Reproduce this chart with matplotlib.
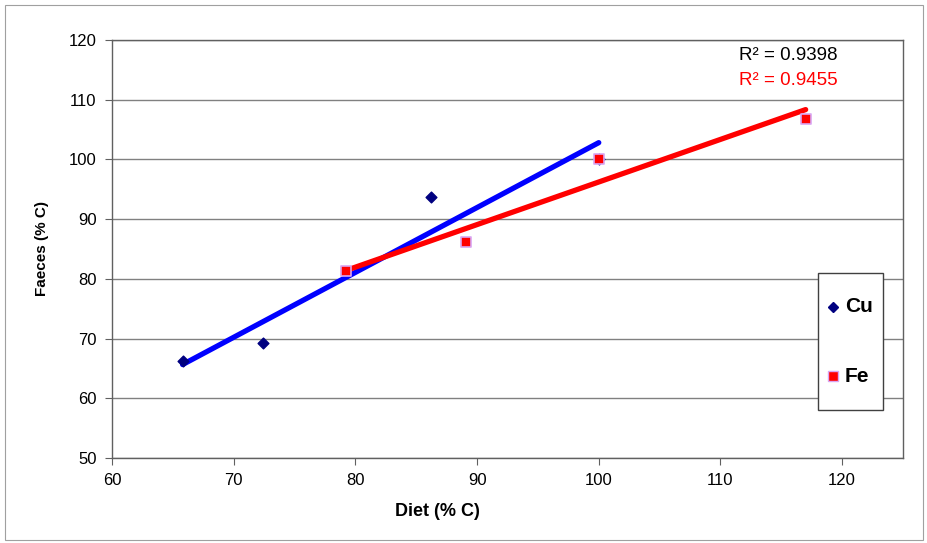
import numpy as np
import matplotlib
matplotlib.use("Agg")
import matplotlib.pyplot as plt
from matplotlib.patches import Rectangle
from matplotlib.lines import Line2D

cu_x = [65.8, 72.4, 86.2, 100.0]
cu_y = [66.2, 69.2, 93.7, 100.0]
fe_x = [79.2, 89.1, 100.0, 117.0]
fe_y = [81.3, 86.2, 100.1, 106.8]
cu_r2 = "R² = 0.9398"
fe_r2 = "R² = 0.9455"
xticks = [60, 70, 80, 90, 100, 110, 120]
yticks = [50, 60, 70, 80, 90, 100, 110, 120]

plt.rcParams['font.family'] = ['Liberation Sans', 'DejaVu Sans']

W, H = 928, 543
fig = plt.figure(figsize=(W/100, H/100), dpi=100)
ax = fig.add_axes([112/W, 1-458/H, (903-112)/W, (458-40)/H])

def fx(px):
    return px / W

def fy(py):
    return 1 - py / H

# figure border
fig.patches.append(Rectangle((fx(5), fy(540)), 918/W, 535/H, transform=fig.transFigure,
                             fill=False, edgecolor='#a0a0a0', linewidth=0.8))

ax.set_xlim(60, 125)
ax.set_ylim(50, 120)
ax.set_xticks(xticks)
ax.set_yticks(yticks)
ax.yaxis.grid(True, color='#808080', linewidth=1.0)
ax.set_axisbelow(True)
for s in ax.spines.values():
    s.set_color('#606060')
    s.set_linewidth(1.0)
ax.tick_params(axis='both', direction='out', length=5, color='#606060', labelsize=12, pad=6)

# trend lines
for xs, ys, c in [(cu_x, cu_y, '#0000FF'), (fe_x, fe_y, '#FF0000')]:
    m, b = np.polyfit(xs, ys, 1)
    xx = np.array([min(xs), max(xs)])
    ax.plot(xx, m*xx + b, color=c, linewidth=3.8, solid_capstyle='round', zorder=2)

ax.scatter(cu_x, cu_y, marker='D', s=30, color='#000080', zorder=3)
ax.scatter(fe_x, fe_y, marker='s', s=46, facecolor='#FF0000', edgecolor='#d9a6f2', linewidth=1.2, zorder=4)

fig.text(fx(838), fy(55), cu_r2, fontsize=13.5, color='black', ha='right', va='center')
fig.text(fx(838), fy(80), fe_r2, fontsize=13.5, color='#FF0000', ha='right', va='center')

ax.set_xlabel("Diet (% C)", fontsize=13, fontweight='bold')
ax.xaxis.set_label_coords((437-112)/791, (458-503)/418)
ax.set_ylabel("Faeces (% C)", fontsize=11, fontweight='bold', labelpad=14)

# legend box (drawn manually)
fig.patches.append(Rectangle((fx(818), fy(410)), 65/W, 137/H, transform=fig.transFigure,
                             facecolor='white', edgecolor='#404040', linewidth=1.0, zorder=5))
fig.lines.append(Line2D([fx(833)], [fy(307)], transform=fig.transFigure, marker='D',
                        color='#000080', linestyle='none', markersize=5.5, zorder=6))
fig.lines.append(Line2D([fx(833)], [fy(376)], transform=fig.transFigure, marker='s',
                        markerfacecolor='#FF0000', markeredgecolor='#d9a6f2',
                        linestyle='none', markersize=7.5, zorder=6))
fig.text(fx(845), fy(307), "Cu", fontsize=15, fontweight='bold', ha='left', va='center', zorder=7)
fig.text(fx(845), fy(376), "Fe", fontsize=15, fontweight='bold', ha='left', va='center', zorder=7)

fig.savefig("out.png", dpi=100)
